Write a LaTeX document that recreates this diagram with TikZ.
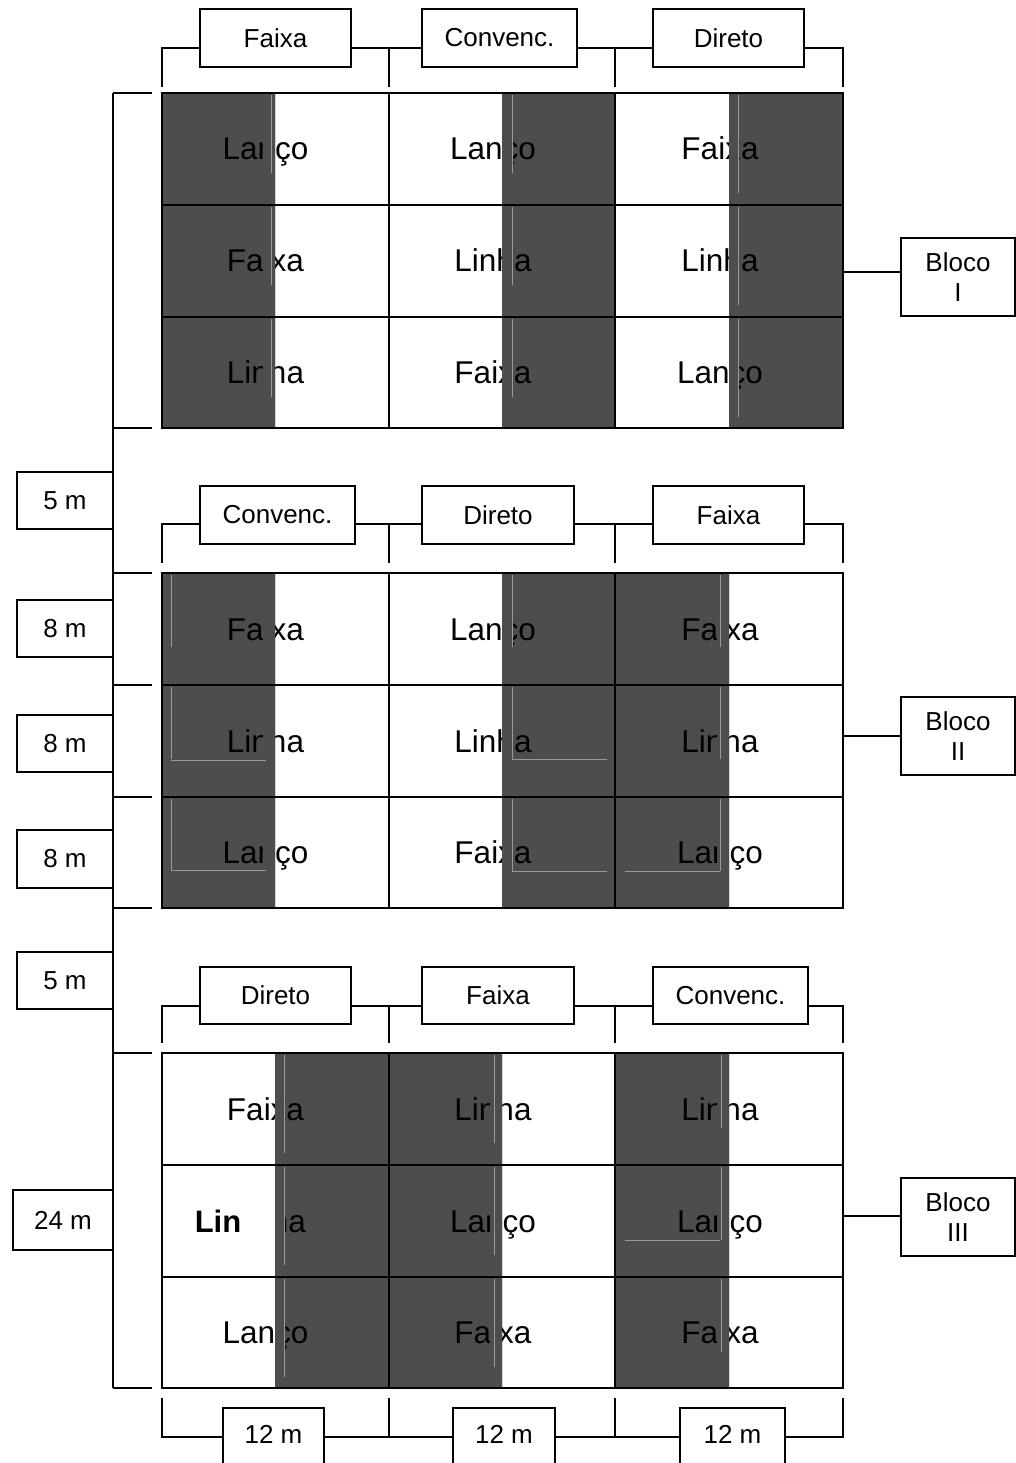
\documentclass[tikz,border=0pt]{standalone}
\usepackage{fontspec}
\setmainfont{Liberation Sans}
\definecolor{darkfill}{HTML}{4D4D4D}
\definecolor{faintc}{HTML}{9A9A9A}
\newcommand\lbox[6]{\node[lbl,minimum width={(#4-#2)*1pt},minimum height={(#5-#3)*1pt}] (#1) at ({(#2+#4)/2},{(#3+#5)/2}) {#6};}
\newcommand\rowtext[5]{%
  \node[cell] (#1a) at (265.5,#2) {#3};
  \node[cell] (#1b) at (493,#2) {#4};
  \node[cell] (#1c) at (720,#2) {#5};}
\begin{document}
\begin{tikzpicture}[x=1pt,y=-1pt,
  gridln/.style={line width=2.6pt},
  brk/.style={line width=1.7pt},
  lbl/.style={draw,line width=1.7pt,fill=white,inner sep=0pt,align=center,font=\fontsize{26}{30.5}\selectfont},
  cell/.style={anchor=base,inner sep=0pt,font=\fontsize{31.5}{36}\selectfont},
  faint/.style={draw=faintc,line width=0.8pt}]
\useasboundingbox (0,0) rectangle (1016,1463);
\clip (0,0) rectangle (1016,1463);
% dark columns
\fill[darkfill] (162,93) rectangle (275,428) (502,93) rectangle (615,428) (729,93) rectangle (843,428);
\fill[darkfill] (162,573) rectangle (275,908) (502,573) rectangle (615,908) (615,573) rectangle (729,908);
\fill[darkfill] (275,1053) rectangle (389,1388) (389,1053) rectangle (502,1388) (615,1053) rectangle (729,1388);
% cell texts
\rowtext{t11}{160}{Lanço}{Lanço}{Faixa}
\rowtext{t12}{272}{Faixa}{Linha}{Linha}
\rowtext{t13}{383.5}{Linha}{Faixa}{Lanço}
\rowtext{t21}{640}{Faixa}{Lanço}{Faixa}
\rowtext{t22}{752}{Linha}{Linha}{Linha}
\rowtext{t23}{863.5}{Lanço}{Faixa}{Lanço}
\rowtext{t31}{1120}{Faixa}{Linha}{Linha}
\node[cell] (t32b) at (493,1232) {Lanço};
\node[cell] (t32c) at (720,1232) {Lanço};
\node[cell,anchor=base east] (t32a) at (306,1232) {ha};
\fill[white] (262,1167) rectangle (274.8,1275);
\node[cell,font=\fontsize{31}{36}\selectfont\bfseries] (tbold) at (218,1232) {Lin};
\rowtext{t33}{1343.5}{Lanço}{Faixa}{Faixa}
% covering strips
\fill[darkfill] (263,93) rectangle (275,428) (502,93) rectangle (512,428) (729,93) rectangle (739,428);
\fill[darkfill] (263,573) rectangle (275,908) (502,573) rectangle (512,908) (717,573) rectangle (729,908);
\fill[darkfill] (275,1053) rectangle (285,1388) (490,1053) rectangle (502,1388) (717,1053) rectangle (729,1388);
% faint frame lines
\foreach \t in {93,205,317}{\draw[faint] (271,\t+2)--(271,\t+80) (512,\t+2)--(512,\t+80) (738,\t+2)--(738,\t+100);}
\foreach \t in {573,685,797}{\draw[faint] (171,\t+2)--(171,\t+74) (512,\t+2)--(512,\t+74) (720,\t+2)--(720,\t+74);}
\foreach \t in {1053,1165,1277}{\draw[faint] (284,\t+2)--(284,\t+100) (494,\t+2)--(494,\t+90) (721,\t+2)--(721,\t+75);}
\draw[faint] (171,760)--(266,760) (171,870)--(266,870) (512,759)--(607,759) (512,871)--(607,871) (625,871)--(720,871) (625,1240)--(720,1240);
% grids
\foreach \t/\b in {93/428,573/908,1053/1388}{
  \draw[gridln] (162,\t) rectangle (843,\b);
  \draw[gridln] (389,\t)--(389,\b) (615,\t)--(615,\b);
  \draw[gridln] (162,\t+112)--(843,\t+112) (162,\t+224)--(843,\t+224);}
% header brackets
\foreach \ly/\bt in {48/87,524/563,1006/1043}{
  \draw[brk] (162,\bt)--(162,\ly)--(843,\ly)--(843,\bt);
  \draw[brk] (389,\ly)--(389,\bt) (615,\ly)--(615,\bt);}
% bottom bracket
\draw[brk] (162,1398)--(162,1437)--(843,1437)--(843,1398);
\draw[brk] (389,1398)--(389,1437) (615,1398)--(615,1437);
% left bracket
\draw[brk] (113,93)--(113,1388);
\foreach \y in {93,428,573,685,797,908,1053,1388}{\draw[brk] (113,\y)--(152,\y);}
% right connectors
\coordinate (g1) at (843,272);
\coordinate (g2) at (843,736);
\coordinate (g3) at (843,1216);
% label boxes
\lbox{h11}{200}{9}{351}{67}{Faixa}
\lbox{h12}{422}{9}{577}{67}{Convenc.}
\lbox{h13}{653}{9}{804}{67}{Direto}
\lbox{h21}{200}{486}{355}{544}{Convenc.}
\lbox{h22}{422}{486}{574}{544}{Direto}
\lbox{h23}{653}{486}{804}{544}{Faixa}
\lbox{h31}{200}{967}{351}{1024}{Direto}
\lbox{h32}{422}{967}{574}{1024}{Faixa}
\lbox{h33}{653}{967}{808}{1024}{Convenc.}
\lbox{d1}{17}{472}{113}{529}{5 m}
\lbox{d2}{17}{600}{113}{657}{8 m}
\lbox{d3}{17}{715}{113}{772}{8 m}
\lbox{d4}{17}{830}{113}{888}{8 m}
\lbox{d5}{17}{952}{113}{1009}{5 m}
\lbox{d6}{13}{1190}{113}{1250}{24 m}
\lbox{b1}{901}{238}{1015}{316}{Bloco\\I}
\lbox{b2}{901}{697}{1015}{775}{Bloco\\II}
\lbox{b3}{901}{1178}{1015}{1256}{Bloco\\III}
\draw[brk] (g1) -- (g1 -| b1.west);
\draw[brk] (g2) -- (g2 -| b2.west);
\draw[brk] (g3) -- (g3 -| b3.west);
\lbox{w1}{223}{1408}{324}{1490}{}
\lbox{w2}{453}{1408}{555}{1490}{}
\lbox{w3}{680}{1408}{785}{1490}{}
\node[font=\fontsize{26}{30}\selectfont,inner sep=0pt] (w1t) at (273.5,1434) {12 m};
\node[font=\fontsize{26}{30}\selectfont,inner sep=0pt] (w2t) at (504,1434) {12 m};
\node[font=\fontsize{26}{30}\selectfont,inner sep=0pt] (w3t) at (732.5,1434) {12 m};
\end{tikzpicture}
\end{document}
